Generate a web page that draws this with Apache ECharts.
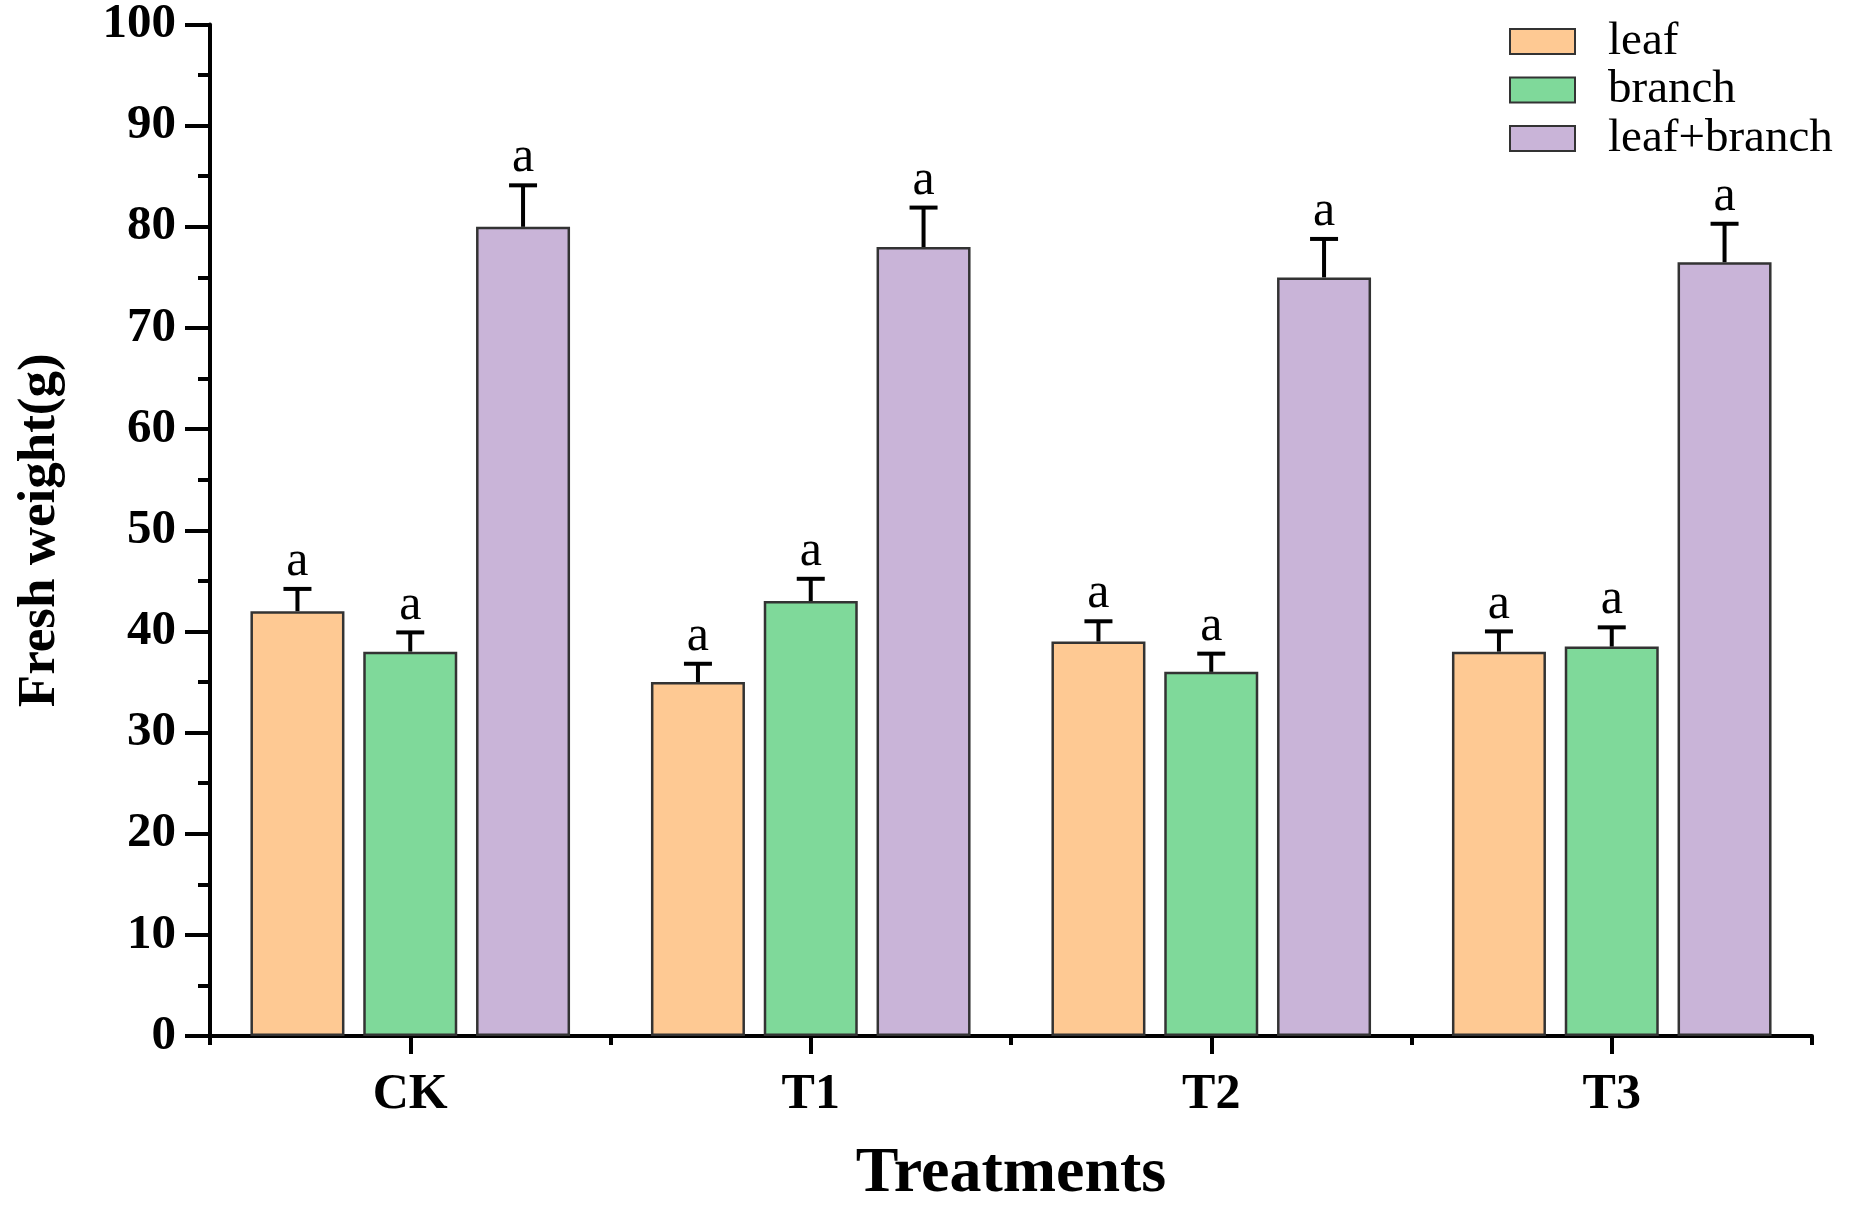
<!DOCTYPE html>
<html>
<head>
<meta charset="utf-8">
<script src="https://cdn.jsdelivr.net/npm/echarts@6/dist/echarts.min.js"></script>
<style>
html,body{margin:0;padding:0;background:#fff;}
#chart{width:1855px;height:1211px;}
</style>
</head>
<body>
<div id="chart"></div>
<script>
const categories = ['CK', 'T1', 'T2', 'T3'];
const seriesNames = ['leaf', 'branch', 'leaf+branch'];
const leafValues = [42, 35, 39, 38];
const leafErrors = [2.2, 1.8, 2.0, 2.0];
const leafLetters = ['a', 'a', 'a', 'a'];
const branchValues = [38, 43, 36, 38.5];
const branchErrors = [1.9, 2.2, 1.8, 1.9];
const branchLetters = ['a', 'a', 'a', 'a'];
const leafBranchValues = [80, 78, 75, 76.5];
const leafBranchErrors = [4.1, 3.9, 3.8, 3.8];
const leafBranchLetters = ['a', 'a', 'a', 'a'];
const yMin = 0, yMax = 100, yInterval = 10;

const colors = ['#FEC993', '#7FD99A', '#C9B4D8'];
const FONT = "'Liberation Serif', 'Times New Roman', serif";
const BAR_W = 94;
const BAR_GAP = 0.2;
const STEP = BAR_W * (1 + BAR_GAP);

const values = [leafValues, branchValues, leafBranchValues];
const errors = [leafErrors, branchErrors, leafBranchErrors];
const letters = [leafLetters, branchLetters, leafBranchLetters];

const chart = echarts.init(document.getElementById('chart'));

const barSeries = seriesNames.map((name, i) => ({
  name: name,
  type: 'bar',
  xAxisIndex: 0,
  barWidth: BAR_W,
  barGap: (BAR_GAP * 100) + '%',
  data: values[i],
  itemStyle: { color: colors[i], borderColor: '#333', borderWidth: 2.5 },
  z: 2
}));

const errSeries = seriesNames.map((name, i) => ({
  name: name + ' err',
  type: 'custom',
  xAxisIndex: 0,
  z: 5,
  clip: false,
  data: values[i].map((v, k) => [k, v, errors[i][k]]),
  renderItem: function (params, api) {
    const x = api.value(0), v = api.value(1), e = api.value(2);
    const base = api.coord([x, v]);
    const top = api.coord([x, v + e]);
    const cx = base[0] + (i - 1) * STEP;
    const style = { stroke: '#000', lineWidth: 4 };
    return {
      type: 'group',
      children: [
        { type: 'line', shape: { x1: cx, y1: base[1], x2: cx, y2: top[1] }, style: style },
        { type: 'line', shape: { x1: cx - 14, y1: top[1], x2: cx + 14, y2: top[1] }, style: style },
        { type: 'text', style: { x: cx, y: top[1] - 2, text: letters[i][params.dataIndex], fill: '#000',
          font: '50px ' + FONT, textAlign: 'center', textVerticalAlign: 'bottom' } }
      ]
    };
  }
}));

const option = {
  animation: false,
  backgroundColor: '#fff',
  grid: { left: 210, right: 43, top: 19, bottom: 166, containLabel: false },
  legend: {
    data: seriesNames,
    orient: 'vertical',
    left: 1504,
    top: 13,
    itemWidth: 65,
    itemHeight: 25,
    itemGap: 1.5,
    icon: 'rect',
    textStyle: { fontFamily: FONT, fontSize: 47, color: '#000', padding: [0, 0, 0, 28] }
  },
  xAxis: [
    {
      type: 'category',
      data: categories,
      position: 'bottom',
      axisLine: { show: true, lineStyle: { color: '#000', width: 4 } },
      axisTick: { show: true, length: 9, lineStyle: { color: '#000', width: 4 } },
      axisLabel: { color: '#000', fontFamily: FONT, fontWeight: 'bold', fontSize: 50, margin: 34 },
      name: 'Treatments',
      nameLocation: 'middle',
      nameGap: 106,
      nameTextStyle: { color: '#000', fontFamily: FONT, fontWeight: 'bold', fontSize: 64 },
      splitLine: { show: false }
    },
    {
      type: 'category',
      data: categories,
      position: 'bottom',
      axisLine: { show: false },
      axisTick: { show: true, alignWithLabel: true, length: 18, lineStyle: { color: '#000', width: 4 } },
      axisLabel: { show: false },
      splitLine: { show: false }
    }
  ],
  yAxis: {
    type: 'value',
    min: yMin,
    max: yMax,
    interval: yInterval,
    axisLine: { show: true, lineStyle: { color: '#000', width: 4 } },
    axisTick: { show: true, length: 25, lineStyle: { color: '#000', width: 4 } },
    minorTick: { show: true, splitNumber: 2, length: 12, lineStyle: { color: '#000', width: 4 } },
    axisLabel: { color: '#000', fontFamily: FONT, fontWeight: 'bold', fontSize: 49, margin: 34 },
    splitLine: { show: false },
    name: 'Fresh weight(g)',
    nameLocation: 'middle',
    nameGap: 143,
    nameTextStyle: { color: '#000', fontFamily: FONT, fontWeight: 'bold', fontSize: 53 }
  },
  series: barSeries.concat(errSeries)
};

chart.setOption(option);
</script>
</body>
</html>
